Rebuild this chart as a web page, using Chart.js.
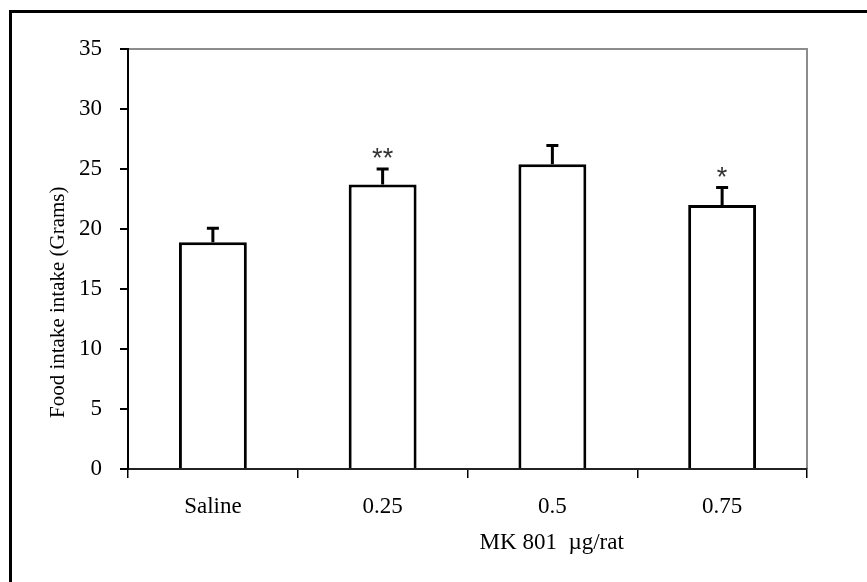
<!DOCTYPE html>
<html>
<head>
<meta charset="utf-8">
<script src="https://cdn.jsdelivr.net/npm/chart.js@4"></script>
<style>
    html, body { margin: 0; padding: 0; background: #fff; }
    canvas { display: block; }
</style>
</head>
<body>
<canvas id="intakeChart" width="867" height="582"></canvas>
<script>
const categories = ['Saline', '0.25', '0.5', '0.75'];
const intake = [18.9, 23.7, 25.4, 22.0];
const sem = [1.2, 1.35, 1.6, 1.5];
const marks = ['', '**', '', '*'];
const yMax = 35;
const yStep = 5;

const serif = '"Liberation Serif", "Times New Roman", serif';

// frame, error bars, stars and axis titles
const extras = {
    id: 'extras',
    beforeDraw(chart) {
        const ctx = chart.ctx;
        ctx.save();
        ctx.fillStyle = '#fff';
        ctx.fillRect(0, 0, chart.width, chart.height);
        ctx.strokeStyle = '#000';
        ctx.lineWidth = 3;
        ctx.beginPath();
        ctx.moveTo(10.5, chart.height);
        ctx.lineTo(10.5, 11.5);
        ctx.lineTo(chart.width, 11.5);
        ctx.stroke();

        // gray top/right border of plot area
        const a = chart.chartArea;
        ctx.strokeStyle = '#8c8c8c';
        ctx.lineWidth = 2;
        ctx.beginPath();
        ctx.moveTo(a.left, a.top);
        ctx.lineTo(a.right, a.top);
        ctx.lineTo(a.right, a.bottom);
        ctx.stroke();
        ctx.restore();
    },
    afterDatasetsDraw(chart) {
        const ctx = chart.ctx;
        const y = chart.scales.y;
        const meta = chart.getDatasetMeta(0);
        ctx.save();
        ctx.strokeStyle = '#000';
        meta.data.forEach((bar, i) => {
            const top = y.getPixelForValue(intake[i]);
            const cap = y.getPixelForValue(intake[i] + sem[i]);
            ctx.lineWidth = 3;
            ctx.beginPath();
            ctx.moveTo(bar.x, top);
            ctx.lineTo(bar.x, cap);
            ctx.moveTo(bar.x - 6, cap + 0.5);
            ctx.lineTo(bar.x + 6, cap + 0.5);
            ctx.stroke();
            if (marks[i]) {
                ctx.font = '27px "Liberation Sans", Arial, sans-serif';
                ctx.fillStyle = '#333';
                ctx.textAlign = 'center';
                ctx.textBaseline = 'alphabetic';
                const m = ctx.measureText(marks[i]);
                const mid = cap - 15;
                ctx.fillText(marks[i], bar.x, mid + (m.actualBoundingBoxAscent - m.actualBoundingBoxDescent) / 2);
            }
        });

        const a = chart.chartArea;
        ctx.fillStyle = '#000';
        ctx.font = '23px ' + serif;
        ctx.textAlign = 'center';
        ctx.textBaseline = 'middle';
        ctx.fillText('MK 801  µg/rat', a.left + 0.624 * (a.right - a.left), a.bottom + 74);

        ctx.font = '21px ' + serif;
        ctx.translate(58, a.top + 0.603 * (a.bottom - a.top));
        ctx.rotate(-Math.PI / 2);
        ctx.fillText('Food intake intake (Grams)', 0, 0);
        ctx.restore();
    }
};

const chartCtx = document.getElementById('intakeChart');

new Chart(chartCtx, {
    type: 'bar',
    data: {
        labels: categories,
        datasets: [
            {
                label: 'Food intake',
                data: intake,
                backgroundColor: '#fff',
                borderColor: '#000',
                borderWidth: 3,
                borderSkipped: 'bottom',
                categoryPercentage: 1.0,
                barPercentage: 0.4,
            }
        ]
    },
    options: {
        responsive: false,
        animation: false,
        layout: {
            padding: { top: 49, right: 60, left: 0, bottom: 0 }
        },
        plugins: {
            legend: { display: false },
            tooltip: { enabled: false },
        },
        scales: {
            x: {
                afterFit: (s) => { s.height = 113; },
                border: { display: true, color: '#222', width: 2 },
                grid: {
                    offset: true,
                    drawOnChartArea: false,
                    drawTicks: true,
                    tickLength: 9,
                    color: '#000',
                    lineWidth: 1.5,
                },
                ticks: {
                    color: '#000',
                    padding: 15,
                    font: { family: serif, size: 23 },
                },
            },
            y: {
                min: 0,
                max: yMax,
                afterFit: (s) => { s.width = 128; },
                border: { display: true, color: '#000', width: 2 },
                grid: {
                    drawOnChartArea: false,
                    drawTicks: true,
                    tickLength: 8,
                    color: '#000',
                    lineWidth: 2,
                },
                ticks: {
                    stepSize: yStep,
                    color: '#000',
                    padding: 18,
                    font: { family: serif, size: 23 },
                },
            }
        }
    },
    plugins: [extras]
});
</script>
</body>
</html>
